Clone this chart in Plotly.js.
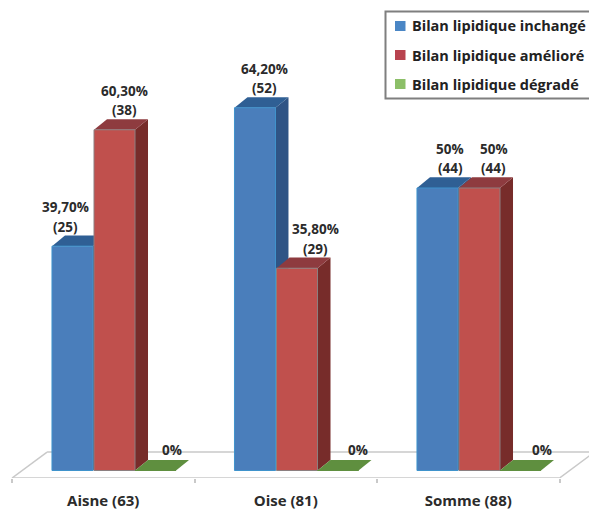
<!DOCTYPE html>
<html><head><meta charset="utf-8">
<script src="https://cdn.plot.ly/plotly-3.0.1.min.js"></script>
<style>html,body{margin:0;padding:0;background:#fff}</style></head>
<body><div id="chart" style="width:589px;height:509px"></div>
<script>
const categories = ["Aisne (63)", "Oise (81)", "Somme (88)"];
const seriesNames = ["Bilan lipidique inchangé", "Bilan lipidique amélioré", "Bilan lipidique dégradé"];
const inchange = [39.7, 64.2, 50];
const ameliore = [60.3, 35.8, 50];
const degrade = [0, 0, 0];
const inchangePct = ["39,70%", "64,20%", "50%"];
const amelioreePct = ["60,30%", "35,80%", "50%"];
const degradePct = ["0%", "0%", "0%"];
const inchangeN = ["(25)", "(52)", "(44)"];
const amelioreN = ["(38)", "(29)", "(44)"];
const degradeN = ["", "", ""];

const series = [inchange, ameliore, degrade];
const pcts = [inchangePct, amelioreePct, degradePct];
const counts = [inchangeN, amelioreN, degradeN];
const front = ["#4A7EBB", "#C0504D", "#5F8F3F"];
const side = ["#2F5485", "#772C2A", "#4E7A33"];
const topFace = ["#2F5F94", "#8E3B3F", "#5F8F3F"];
const swatch = ["#4A86C5", "#B8434F", "#8CBF68"];
const edge = ["#3F93CC", "#8C7F80", "#5F8F3F"];
const barW = 0.2247, offs = [-0.281, -0.0507, 0.174];
const dx = 0.0712, dy = 1.88;
const labelShift = [[-7, 10, 13], [10, 18, 14], [16, 20, 21]];
const FONT = "'Open Sans', sans-serif", TXT = "#2b2b2b";
const floorCol = "#c9c9c9";

const traces = series.map((vals, s) => ({
  type: "bar", name: seriesNames[s], x: categories, y: vals, width: barW, offset: offs[s],
  marker: {color: front[s], line: {color: edge[s], width: 1}}, showlegend: false, hoverinfo: "x+y"
}));

function poly(pts){ return "M" + pts.map(p => p[0] + "," + p[1]).join("L") + "Z"; }
const shapes = [];
const line = (x0,y0,x1,y1) => shapes.push({type:"line",xref:"x",yref:"y",x0,y0,x1,y1,layer:"below",line:{color:floorCol,width:1.5}});
const fb = -1.33, bk = 3.27;
line(-0.5, fb, 2.5, fb);
line(-0.5, fb, -0.5 + 0.192, bk);
line(-0.5 + 0.192, bk, 2.75, bk);
line(2.5, fb, 2.5 + 0.192, bk);
categories.forEach((c, i) => {
  series.forEach((vals, s) => {
    const v = vals[i], x0 = i + offs[s], x1 = x0 + barW;
    if (v > 0) shapes.push({type:"path",xref:"x",yref:"y",layer:"below",
      path: poly([[x1,0],[x1+dx,dy],[x1+dx,v+dy],[x1,v]]), fillcolor: side[s], line:{width:0}});
    shapes.push({type:"path",xref:"x",yref:"y",layer:"below",
      path: poly([[x0,v],[x0+dx,v+dy],[x1+dx,v+dy],[x1,v]]), fillcolor: topFace[s], line:{width:0}});
  });
});
shapes.push({type:"rect",xref:"paper",yref:"paper",x0:385.5/589,x1:1.01,y0:1-98.5/478,y1:1-11.5/478,
  line:{color:"#7f7f7f",width:2},fillcolor:"#fff",layer:"above"});

const annotations = [];
categories.forEach((c, i) => series.forEach((vals, s) => {
  const x = i + offs[s] + barW/2;
  const common = {xref:"x",yref:"y",x,y:vals[i],showarrow:false,xshift:labelShift[s][i],
    font:{family:FONT,size:13.5,color:TXT,weight:700},xanchor:"center",yanchor:"middle"};
  if (counts[s][i]) {
    annotations.push({...common,text:counts[s][i],yshift:19.5});
    annotations.push({...common,text:pcts[s][i],yshift:39});
  } else annotations.push({...common,text:pcts[s][i],yshift:21});
}));
seriesNames.forEach((n, s) => {
  const cy = 26 + 29*s;
  shapes.push({type:"rect",xref:"paper",yref:"paper",x0:395/589,x1:405.5/589,
    y0:1-(cy+5)/478,y1:1-(cy-5)/478,fillcolor:swatch[s],line:{width:0},layer:"above"});
  annotations.push({xref:"paper",yref:"paper",x:409.5/589,y:1-cy/478,xanchor:"left",yanchor:"middle",
    showarrow:false,text:n,font:{family:FONT,size:14.5,color:"#222",weight:700}});
});

Plotly.newPlot("chart", traces, {
  width:589, height:509, margin:{l:0,r:0,t:0,b:31}, paper_bgcolor:"#fff", plot_bgcolor:"#fff",
  barmode:"overlay", showlegend:false, shapes, annotations,
  xaxis:{type:"category",categories:categories,categoryorder:"array",categoryarray:categories,
    range:[-0.5658,2.6616],tickson:"boundaries",ticks:"outside",ticklen:4,tickcolor:floorCol,tickwidth:1.5,
    ticklabelstandoff:12,showline:false,showgrid:false,zeroline:false,
    tickfont:{family:FONT,size:15,color:TXT,weight:700}},
  yaxis:{range:[-1.327,83.27],visible:false,showgrid:false,zeroline:false}
}, {displayModeBar:false});
</script></body></html>
